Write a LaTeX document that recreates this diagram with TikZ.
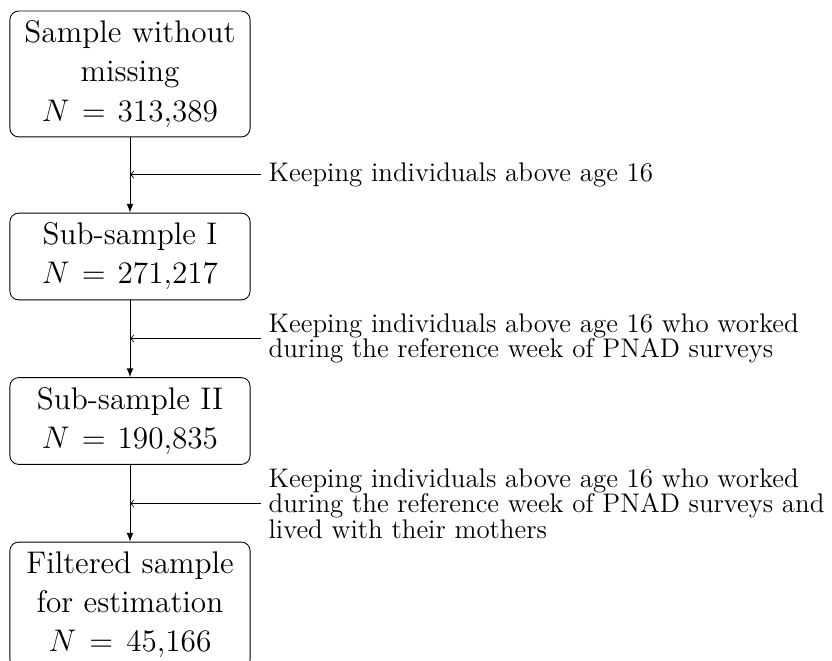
\documentclass[tikz,border=0pt]{standalone}
\usetikzlibrary{arrows}
\begin{document}
\begin{tikzpicture}[x=0.4608pt,y=-0.4608pt,
  samplebox/.style={draw, rounded corners=4pt, align=center, font=\Large,
    minimum width=110.6pt, text width=104pt, inner xsep=3.33pt, inner ysep=2pt},
  threeline/.style={samplebox, minimum height=58pt},
  twoline/.style={samplebox, minimum height=40pt},
  note/.style={anchor=west, align=left, inner sep=3.33pt, font=\fontsize{12.4}{11.8}\selectfont},
  flow/.style={-latex},
  feed/.style={->}]
\useasboundingbox (0,0) rectangle (832,660);
\node[threeline] (b1) at (130,74) {Sample without\\missing\\$N=313{,}389$};
\node[twoline] (b2) at (130,256.5) {Sub-sample I\\$N=271{,}217$};
\node[twoline] (b3) at (130,421) {Sub-sample II\\$N=190{,}835$};
\node[threeline] (b4) at (130,605) {Filtered sample\\for estimation\\$N=45{,}166$};
\draw[flow] (b1) -- (b2);
\draw[flow] (b2) -- (b3);
\draw[flow] (b3) -- (b4);
\node[note] (n1) at (261,174.5) {Keeping individuals above age 16};
\node[note] (n2) at (261,338.5) {Keeping individuals above age 16 who worked\\during the reference week of PNAD surveys};
\node[note] (n3) at (261,503.5) {Keeping individuals above age 16 who worked\\during the reference week of PNAD surveys and\\lived with their mothers};
\draw[feed] (n1.west) -- (n1.west -| b1.south);
\draw[feed] (n2.west) -- (n2.west -| b2.south);
\draw[feed] (n3.west) -- (n3.west -| b3.south);
\end{tikzpicture}
\end{document}
